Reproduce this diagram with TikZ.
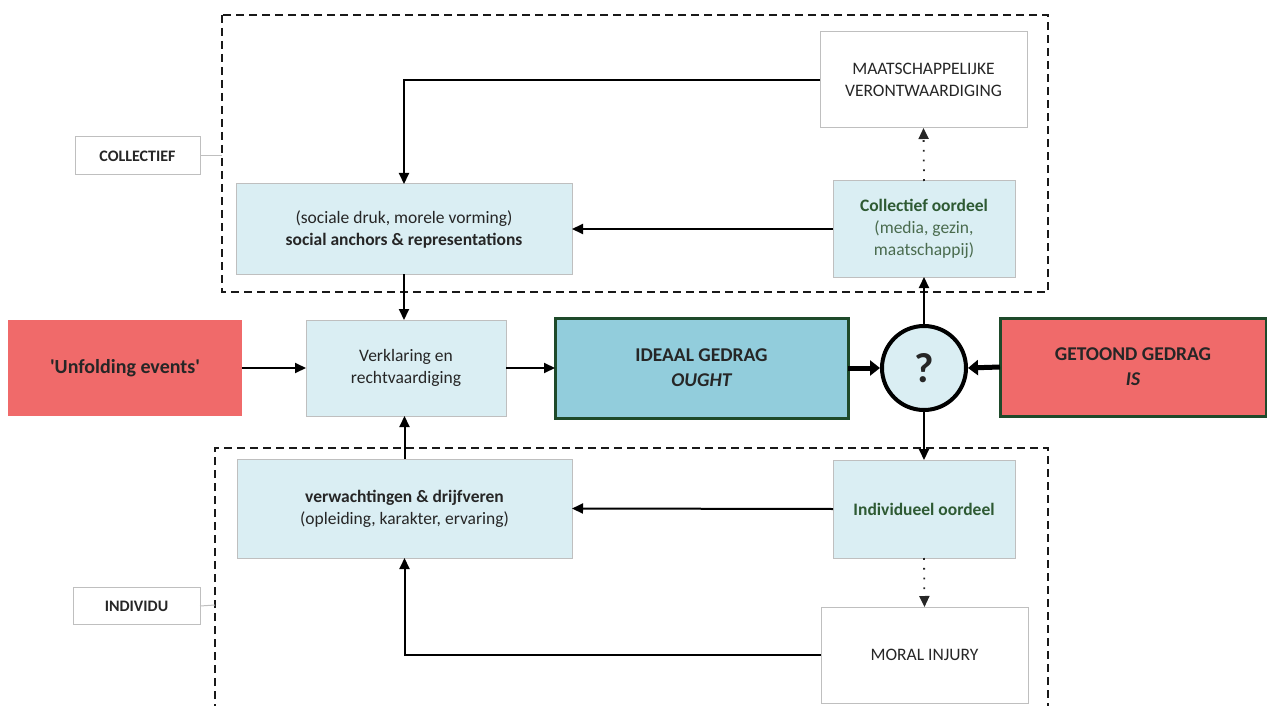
\documentclass[tikz,border=0pt]{standalone}
\usepackage{fontspec}
\setmainfont{Carlito}
\usetikzlibrary{arrows.meta}
\definecolor{lblue}{HTML}{DAEEF3}
\definecolor{teal}{HTML}{92CDDC}
\definecolor{redbox}{HTML}{F06A6A}
\definecolor{dgreen}{HTML}{1E4A2A}
\definecolor{gbord}{HTML}{BFBFBF}
\definecolor{txt}{HTML}{262626}
\definecolor{gtxt}{HTML}{2E5A33}
\definecolor{gtxt2}{HTML}{4A6B4E}
\tikzset{
  base/.style={rectangle, inner sep=2pt, outer sep=0pt, align=center, text=txt,
    font=\fontsize{17.5}{22}\selectfont},
  lightbox/.style={base, fill=lblue, draw=gbord, line width=1pt},
  whitebox/.style={base, fill=white, draw=gbord, line width=1pt},
  redb/.style={base, fill=redbox, draw=dgreen, line width=3pt, font=\fontsize{19.5}{25}\selectfont\bfseries},
  labelbox/.style={base, fill=white, draw=gbord, line width=1pt, font=\fontsize{16}{18}\selectfont\bfseries},
  group/.style={draw=black!90, dashed, dash pattern=on 8pt off 5pt, line width=2pt},
  arr/.style={-{Triangle[length=11pt,width=10pt]}, line width=2pt, draw=black},
  thickarr/.style={-{Triangle[length=10pt,width=15pt]}, line width=5pt, draw=black},
  dotarr/.style={-{Triangle[length=11pt,width=10pt]}, line width=1.8pt, dash pattern=on 1.8pt off 8pt, draw=black!85},
  thin/.style={draw=gbord, line width=1pt}
}
\begin{document}
\begin{tikzpicture}[x=1pt,y=-1pt]
\useasboundingbox (0,0) rectangle (1267,706);
% group frames
\draw[group] (222,15) rectangle (1048,292);
\draw[group] (215,712) -- (215,448) -- (1048,448) -- (1048,712);
\coordinate (cg) at (222,156);
\coordinate (ig) at (215,605);
% labels
\node[labelbox, minimum width=125, minimum height=38] (coll) at (137.5,156) {COLLECTIEF};
\node[labelbox, minimum width=127, minimum height=37] (ind) at (136.5,606) {INDIVIDU};
\draw[thin] (coll.east) -- (cg);
\draw[thin] (ind.east) -- (ig);
% top group
\node[whitebox, minimum width=207, minimum height=96] (maat) at (923.5,80) {MAATSCHAPPELIJKE\\VERONTWAARDIGING};
\node[lightbox, minimum width=182, minimum height=96] (coord) at (924,229)
  {\textcolor{gtxt}{\bfseries Collectief oordeel}\\\textcolor{gtxt2}{(media, gezin,}\\\textcolor{gtxt2}{maatschappij)}};
\node[lightbox, minimum width=336, minimum height=90] (soc) at (404,229)
  {(sociale druk, morele vorming)\\\textbf{social anchors \& representations}};
% middle row
\node[redb, draw=none, minimum width=234, minimum height=96, font=\fontsize{20}{25}\selectfont\bfseries] (unf) at (125,368) {\textquotesingle Unfolding events\textquotesingle};
\node[lightbox, minimum width=200, minimum height=96] (ver) at (406,368) {Verklaring en\\rechtvaardiging};
\node[base, fill=teal, draw=dgreen, line width=3pt, minimum width=293, minimum height=100,
  font=\fontsize{19.5}{25}\selectfont\bfseries] (ide) at (701.5,368) {IDEAAL GEDRAG\\\itshape OUGHT};
\node[circle, fill=lblue, draw=black, line width=4pt, minimum size=84, inner sep=0pt,
  font=\fontsize{42}{42}\selectfont\bfseries, text=txt] (q) at (924,368) {?};
\node[redb, minimum width=266, minimum height=98] (get) at (1133,367) {GETOOND GEDRAG\\\itshape IS};
% bottom group
\node[lightbox, minimum width=335, minimum height=99] (verw) at (404.5,508.5)
  {\textbf{verwachtingen \& drijfveren}\\(opleiding, karakter, ervaring)};
\node[lightbox, minimum width=182, minimum height=98] (ioord) at (924,509)
  {\textcolor{gtxt}{\bfseries Individueel oordeel}};
\node[whitebox, minimum width=207, minimum height=96] (mor) at (924.5,655) {MORAL INJURY};
% connectors
\draw[arr] (maat.west) -| (soc.north);
\draw[arr] (coord.west) -- (soc.east);
\draw[dotarr] (coord.north) -- (maat.south);
\draw[arr] (soc.south) -- (soc.south |- ver.north);
\draw[arr] (q.north) -- (coord.south);
\draw[arr] (unf.east) -- (ver.west);
\draw[arr] (ver.east) -- (ide.west);
\draw[thickarr] (ide.east) -- (q.west);
\draw[thickarr] (get.west) -- (q.east);
\draw[arr] (q.south) -- (ioord.north);
\draw[arr] (ioord.west) -- (verw.east);
\draw[dotarr] (ioord.south) -- (mor.north);
\draw[arr] (mor.west) -| (verw.south);
\draw[arr] (verw.north) -- (verw.north |- ver.south);
\end{tikzpicture}
\end{document}
